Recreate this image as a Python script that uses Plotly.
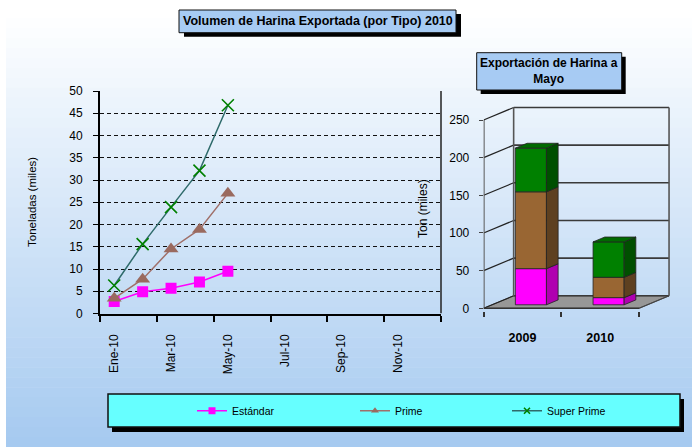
import plotly.graph_objects as go

W, H = 692, 447

# ---------------- data ----------------
months = ['Ene-10', 'Feb-10', 'Mar-10', 'Abr-10', 'May-10', 'Jun-10',
          'Jul-10', 'Ago-10', 'Sep-10', 'Oct-10', 'Nov-10', 'Dic-10']
estandar = [2.7, 4.9, 5.7, 7.1, 9.5]
prime = [3.4, 7.7, 14.5, 18.9, 27.0]
super_prime = [6.3, 15.6, 23.9, 32.1, 46.8]

years = ['2009', '2010']
bar_estandar = [48, 9.5]
bar_prime = [102, 27]
bar_super = [58, 47]

left_ticks = list(range(0, 51, 5))
right_ticks = list(range(0, 251, 50))

series_names = ['Estándar', 'Prime', 'Super Prime']

FONT = 'Liberation Sans, Arial, sans-serif'


def px(x):
    return x / W


def py(y):
    return 1 - y / H


shapes = []
annotations = []

# ---------------- background gradient ----------------
top_c = (253, 254, 255)
bot_c = (166, 202, 240)
y_start, n_bands = 18, 43
band_h = (H - y_start) / n_bands
for i in range(n_bands):
    t = i / (n_bands - 1)
    c = tuple(round(top_c[k] + (bot_c[k] - top_c[k]) * t) for k in range(3))
    shapes.append(dict(type='rect', xref='paper', yref='paper', layer='below',
                       x0=px(6), x1=1, y0=py(y_start + i * band_h),
                       y1=py(y_start + (i + 1) * band_h + 0.6),
                       fillcolor='rgb(%d,%d,%d)' % c, line=dict(width=0)))

# ---------------- right 3D chart geometry ----------------
U = 77.7       # px per category unit
X0 = 522.5     # px of category 0 (front plane)
K = 0.7532     # px per ton
Y0 = 308.3     # px of value 0 (front plane)
DX = 30 / U    # full depth shift (x units)
DY = 12.5 / K  # full depth shift (y units)
f1, f2 = 0.28, 0.67
HALF = 0.2
x2_range = [-0.5, (690 - X0) / U]
y2_low = -3
y2_range = [y2_low, (Y0 - 100) / K]
x2_dom = [px(X0 - 0.5 * U), px(690)]
y2_dom = [py(Y0 - y2_low * K), py(100)]

wall_col = '#3a3a3a'
shapes.append(dict(type='path', xref='x2', yref='y2', layer='below',
                   path='M -0.5 0 L 1.5 0 L %f %f L %f %f Z' % (1.5 + DX, DY, -0.5 + DX, DY),
                   fillcolor='#979797', line=dict(color='#555555', width=1)))
for v in right_ticks:
    shapes.append(dict(type='line', xref='x2', yref='y2', layer='below',
                       x0=-0.5 + DX, x1=1.5 + DX, y0=v + DY, y1=v + DY,
                       line=dict(color=wall_col, width=1.6)))
    shapes.append(dict(type='line', xref='x2', yref='y2', layer='below',
                       x0=-0.5, x1=-0.5 + DX, y0=v, y1=v + DY,
                       line=dict(color='#222222', width=1.2)))
for xe in (-0.5 + DX, 1.5 + DX):
    shapes.append(dict(type='line', xref='x2', yref='y2', layer='below',
                       x0=xe, x1=xe, y0=DY, y1=250 + DY,
                       line=dict(color='#555555', width=1.6)))
shapes.append(dict(type='line', xref='x2', yref='y2', layer='below',
                   x0=1.5, x1=1.5 + DX, y0=0, y1=DY,
                   line=dict(color='#444444', width=1.2)))
shapes.append(dict(type='line', xref='x2', yref='y2', layer='above',
                   x0=-0.5, x1=-0.5, y0=0, y1=250,
                   line=dict(color='#5a5a5a', width=2)))
shapes.append(dict(type='line', xref='x2', yref='y2', layer='above',
                   x0=-0.5, x1=1.5, y0=0, y1=0,
                   line=dict(color='#333333', width=1.5)))

# left chart right border
shapes.append(dict(type='line', xref='x domain', yref='y', x0=1, x1=1, y0=0, y1=50,
                   line=dict(color='#222222', width=1.5)))


def box(x0, y0, x1, y1, fill, sdx, sdy, lw=1):
    shapes.append(dict(type='rect', xref='paper', yref='paper', layer='above',
                       x0=px(x0 + sdx), x1=px(x1 + sdx), y0=py(y1 + sdy), y1=py(y0 + sdy),
                       fillcolor='black', line=dict(width=0)))
    shapes.append(dict(type='rect', xref='paper', yref='paper', layer='above',
                       x0=px(x0), x1=px(x1), y0=py(y1), y1=py(y0),
                       fillcolor=fill, line=dict(color='#111111', width=lw)))


box(179, 10, 456, 32.7, '#a7cbf3', 5, 4)
box(476.7, 52.7, 621.7, 90, '#a7cbf3', 4, 4)
box(108, 394, 680, 427, '#66ffff', 4, 5, lw=1.5)

annotations.append(dict(xref='paper', yref='paper', x=px(317.5), y=py(21.5),
                        text='<b>Volumen de Harina Exportada (por Tipo) 2010</b>',
                        showarrow=False, xanchor='center', yanchor='middle',
                        font=dict(family=FONT, size=12.5, color='black')))
annotations.append(dict(xref='paper', yref='paper', x=px(549), y=py(71.5),
                        text='<b>Exportación de Harina a<br>Mayo</b>',
                        showarrow=False, xanchor='center', yanchor='middle',
                        font=dict(family=FONT, size=12, color='black')))
annotations.append(dict(xref='paper', yref='paper', x=px(32), y=py(202),
                        text='Toneladas (miles)', textangle=-90,
                        showarrow=False, xanchor='center', yanchor='middle',
                        font=dict(family=FONT, size=11.5, color='black')))
annotations.append(dict(xref='paper', yref='paper', x=px(423), y=py(208),
                        text='Ton (miles)', textangle=-90,
                        showarrow=False, xanchor='center', yanchor='middle',
                        font=dict(family=FONT, size=12, color='black')))

fig = go.Figure()

# ---------------- left line chart ----------------
line_cols = ['#ff00ff', '#a0706a', '#2f6b6b']
marker_defs = [
    dict(symbol='square', color='#ff00ff'),
    dict(symbol='triangle-up', color='#9a6a5f'),
    dict(symbol='x-thin', color='#008000', line=dict(color='#008000', width=1.6)),
]
chart_sizes = [11, 13, 12]
legend_sizes = [7, 7, 6]
legend_ids = ['legend', 'legend2', 'legend3']
xs = list(range(len(estandar)))
for k, vals in enumerate([estandar, prime, super_prime]):
    fig.add_trace(go.Scatter(x=xs, y=vals, name=series_names[k], mode='lines+markers',
                             line=dict(color=line_cols[k], width=1.5),
                             marker=dict(size=chart_sizes[k], **marker_defs[k]),
                             legendgroup=series_names[k], showlegend=False,
                             hoverinfo='skip'))
    # legend key (small markers, as in the original legend)
    fig.add_trace(go.Scatter(x=[None], y=[None], name=series_names[k], mode='lines+markers',
                             line=dict(color=line_cols[k], width=1.5),
                             marker=dict(size=legend_sizes[k], **marker_defs[k]),
                             legendgroup=series_names[k], legend=legend_ids[k],
                             hoverinfo='skip'))

# ---------------- right 3D stacked bars ----------------
segments = [bar_estandar, bar_prime, bar_super]
front_cols = ['#ff00ff', '#996633', '#008000']
side_cols = ['#b000b0', '#5e4020', '#004f00']
top_cols = ['#d000d0', '#7a5228', '#006a00']
edge = dict(color='#222222', width=0.8)

cum = [0.0 for _ in years]
bar_x = [i + f1 * DX for i in range(len(years))]
ddx = (f2 - f1) * DX
ddy = (f2 - f1) * DY
for k, seg in enumerate(segments):
    bases = [cum[i] + f1 * DY for i in range(len(years))]
    fig.add_trace(go.Bar(x=bar_x, y=seg, base=bases, width=2 * HALF,
                         marker=dict(color=front_cols[k], line=edge),
                         xaxis='x2', yaxis='y2', showlegend=False, hoverinfo='skip'))
    sx, sy = [], []
    for i in range(len(years)):
        xr = bar_x[i] + HALF
        b = bases[i]
        t = bases[i] + seg[i]
        sx += [xr, xr + ddx, xr + ddx, xr, xr, None]
        sy += [b, b + ddy, t + ddy, t, b, None]
    fig.add_trace(go.Scatter(x=sx, y=sy, mode='lines', fill='toself',
                             fillcolor=side_cols[k], line=edge,
                             xaxis='x2', yaxis='y2', showlegend=False, hoverinfo='skip'))
    cum = [cum[i] + seg[i] for i in range(len(years))]

tx, ty = [], []
for i in range(len(years)):
    xl = bar_x[i] - HALF
    xr = bar_x[i] + HALF
    T = cum[i] + f1 * DY
    tx += [xl, xl + ddx, xr + ddx, xr, xl, None]
    ty += [T, T + ddy, T + ddy, T, T, None]
fig.add_trace(go.Scatter(x=tx, y=ty, mode='lines', fill='toself',
                         fillcolor=top_cols[2], line=edge,
                         xaxis='x2', yaxis='y2', showlegend=False, hoverinfo='skip'))

# ---------------- layout ----------------
tickfont = dict(family=FONT, size=12, color='black')
leg_common = dict(orientation='h', xanchor='left', yanchor='middle', y=py(410.7),
                  bgcolor='rgba(0,0,0,0)', borderwidth=0, itemclick=False,
                  itemdoubleclick=False,
                  font=dict(family=FONT, size=10.5, color='black'))

fig.update_layout(
    width=W, height=H,
    margin=dict(l=0, r=0, t=0, b=0, pad=0, autoexpand=False),
    paper_bgcolor='white', plot_bgcolor='rgba(0,0,0,0)',
    barmode='overlay',
    shapes=shapes, annotations=annotations,
    legend=dict(x=px(192), **leg_common),
    legend2=dict(x=px(355), **leg_common),
    legend3=dict(x=px(507), **leg_common),
    xaxis=dict(domain=[px(100), px(441)], range=[-0.5, 11.5], automargin=False,
               tickmode='array', tickvals=list(range(0, 12, 2)), ticktext=months[::2],
               ticks='', tickangle=-90, tickfont=tickfont, ticklabelstandoff=14,
               minor=dict(tickmode='array', tickvals=[v - 0.5 for v in range(0, 13, 2)],
                          ticks='outside', ticklen=6, tickcolor='black', tickwidth=1.5,
                          showgrid=False),
               showline=True, linecolor='black', linewidth=2,
               showgrid=False, zeroline=False, fixedrange=True),
    yaxis=dict(domain=[py(313.5), py(91)], range=[0, 50], automargin=False,
               tickmode='array', tickvals=left_ticks, ticks='outside', ticklen=5,
               tickcolor='black', tickfont=tickfont, ticklabelstandoff=8,
               showline=True, linecolor='black', linewidth=2,
               showgrid=True, gridcolor='#111111', gridwidth=1, griddash='4px,3px',
               zeroline=False, fixedrange=True),
    xaxis2=dict(domain=x2_dom, range=x2_range, anchor='y2', automargin=False,
                tickmode='array', tickvals=list(range(len(years))), ticktext=years,
                ticks='outside', ticklen=15, tickcolor='rgba(0,0,0,0)',
                tickfont=dict(family=FONT, size=12.5, color='black', weight='bold'),
                minor=dict(tickmode='array', tickvals=[-0.5, 0.5, 1.5],
                           ticks='outside', ticklen=5, tickcolor='#333333', tickwidth=1.5,
                           showgrid=False),
                showline=False, showgrid=False, zeroline=False, fixedrange=True),
    yaxis2=dict(domain=y2_dom, range=y2_range, anchor='x2', automargin=False,
                tickmode='array', tickvals=right_ticks, ticks='outside', ticklen=4,
                tickcolor='#444444', tickfont=tickfont, ticklabelstandoff=7,
                showline=False, showgrid=False, zeroline=False, fixedrange=True),
)

fig.write_html('out.html', config={'displayModeBar': False},
               post_script="document.body.style.margin='0';document.body.style.overflow='hidden';")
